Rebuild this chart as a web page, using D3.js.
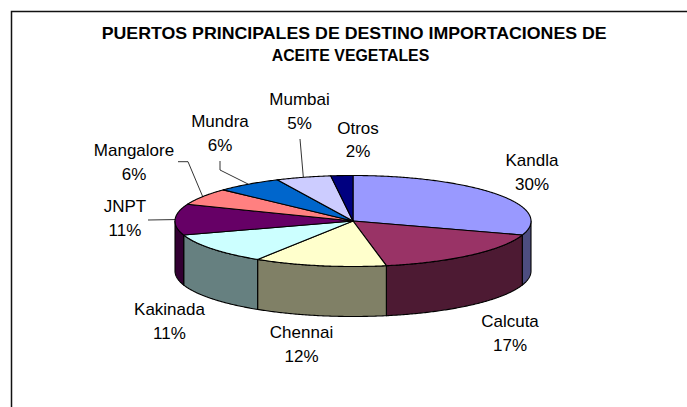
<!DOCTYPE html>
<html>
<head>
<meta charset="utf-8">
<script src="https://cdn.jsdelivr.net/npm/d3@7/dist/d3.min.js"></script>
<style>
  html, body { margin: 0; padding: 0; background: #fff; }
  svg { display: block; }
</style>
</head>
<body>
<svg id="chart" width="687" height="407"></svg>
<script>
// ---- data ----
const titleLines = ["PUERTOS PRINCIPALES DE DESTINO IMPORTACIONES DE", "ACEITE VEGETALES"];
const ports  = ["Kandla", "Calcuta", "Chennai", "Kakinada", "JNPT", "Mangalore", "Mundra", "Mumbai", "Otros"];
const shares = [30, 17, 12, 11, 11, 6, 6, 5, 2];

// ---- styles / layout ----
const topColors = ["#9999FF", "#993366", "#FFFFCC", "#CCFFFF", "#660066", "#FF8080", "#0066CC", "#CCCCFF", "#000080"];
const geom = { cx: 353, cy: 221, rx: 178, ry: 45.5, depth: 50 };
// label anchor: [centre x, first baseline]
const labelPos = {
  Kandla: [532, 166], Calcuta: [510, 327], Chennai: [301.5, 338], Kakinada: [169.5, 315],
  JNPT: [125, 212], Mangalore: [134, 156], Mundra: [220, 127], Mumbai: [299.5, 105], Otros: [358, 133.5]
};
const lineGap = 23.5;
// leader line start points (near label), elbow optional
const leaders = {
  JNPT: [[148, 220]],
  Mangalore: [[178, 161.7], [188, 161.7]],
  Mundra: [[220, 161], [220, 170]],
  Mumbai: [[300, 139]]
};

const svg = d3.select("#chart");

// frame
svg.append("rect")
  .attr("x", 11.5).attr("y", 11.5).attr("width", 720).attr("height", 440)
  .attr("fill", "none").attr("stroke", "#111").attr("stroke-width", 1.5);

// title
const titleX = [101.7, 271.7], titleW = [505, 157.6], titleY = [38.5, 61];
titleLines.forEach((t, i) => {
  svg.append("text")
    .attr("x", titleX[i]).attr("y", titleY[i])
    .attr("font-family", "'Liberation Sans', Arial, sans-serif")
    .attr("font-weight", "bold").attr("font-size", 16.5)
    .attr("fill", "#000")
    .attr("textLength", titleW[i]).attr("lengthAdjust", "spacingAndGlyphs")
    .text(t);
});

// pie
const color = d3.scaleOrdinal().domain(ports).range(topColors);
const sideColor = p => {
  const c = d3.rgb(color(p));
  return d3.rgb(c.r * 0.5, c.g * 0.5, c.b * 0.5).formatHex();
};
const pie = d3.pie().sort(null).startAngle(0).endAngle(2 * Math.PI).value(d => d.v);
const arcs = pie(ports.map((p, i) => ({ p, v: shares[i] })));

const pt = (a, dy = 0) => [geom.cx + geom.rx * Math.sin(a), geom.cy - geom.ry * Math.cos(a) + dy];
const arcPts = (a0, a1, dy = 0) => {
  const n = Math.max(2, Math.ceil((a1 - a0) / 0.01));
  return d3.range(n + 1).map(k => pt(a0 + (a1 - a0) * k / n, dy));
};
const line = d3.line();

const g = svg.append("g");
// walls (front half visible: angles between pi/2 and 3pi/2)
arcs.forEach(d => {
  const t0 = Math.max(d.startAngle, Math.PI / 2), t1 = Math.min(d.endAngle, 3 * Math.PI / 2);
  if (t1 <= t0) return;
  const pts = arcPts(t0, t1).concat(arcPts(t0, t1, geom.depth).reverse());
  g.append("path").attr("d", line(pts) + "Z")
    .attr("fill", sideColor(d.data.p)).attr("stroke", "#000").attr("stroke-width", 1.1)
    .attr("stroke-linejoin", "round");
});
// tops
arcs.forEach(d => {
  const pts = [[geom.cx, geom.cy]].concat(arcPts(d.startAngle, d.endAngle));
  g.append("path").attr("d", line(pts) + "Z")
    .attr("fill", color(d.data.p)).attr("stroke", "#000").attr("stroke-width", 1.1)
    .attr("stroke-linejoin", "round");
});

// leader lines
arcs.forEach(d => {
  const L = leaders[d.data.p];
  if (!L) return;
  const mid = (d.startAngle + d.endAngle) / 2;
  const end = pt(mid);
  svg.append("path").attr("d", line(L.concat([end])))
    .attr("fill", "none").attr("stroke", "#000").attr("stroke-width", 0.8);
});

// labels
arcs.forEach(d => {
  const [x, y] = labelPos[d.data.p];
  const t = svg.append("text")
    .attr("font-family", "'Liberation Sans', Arial, sans-serif")
    .attr("font-size", 17).attr("fill", "#000").attr("text-anchor", "middle");
  t.append("tspan").attr("x", x).attr("y", y).text(d.data.p);
  t.append("tspan").attr("x", x).attr("y", y + lineGap).text(d3.format(".0f")(d.data.v) + "%");
});
</script>
</body>
</html>
